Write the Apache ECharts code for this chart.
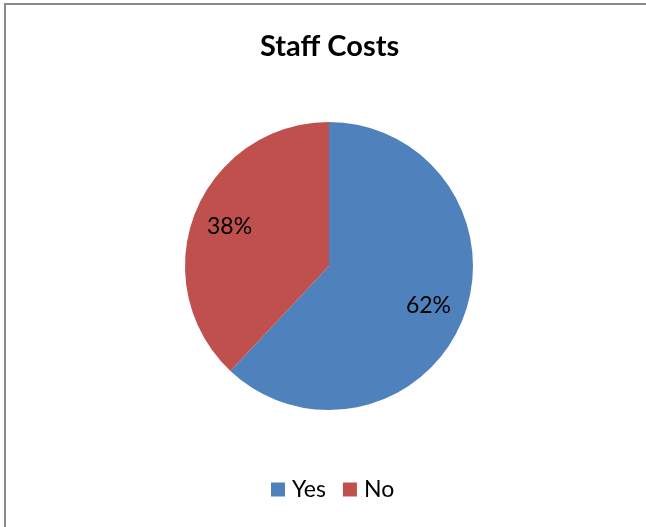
<!DOCTYPE html>
<html>
<head>
<meta charset="utf-8">
<script src="https://cdn.jsdelivr.net/npm/echarts@6/dist/echarts.min.js"></script>
<style>
  html, body { margin: 0; padding: 0; background: #ffffff; }
  #chart { width: 646px; height: 527px; }
</style>
</head>
<body>
<div id="chart"></div>
<script>
// Survey answers for staff costs
const categories = ['Yes', 'No'];
const shares = [62, 38];
const colors = ['#4F81BD', '#C0504D'];

const pieData = categories.map((name, i) => ({ name: name, value: shares[i] }));

const chart = echarts.init(document.getElementById('chart'), null, { renderer: 'canvas' });

chart.setOption({
  backgroundColor: '#ffffff',
  animation: false,
  color: colors,
  title: {
    text: 'Staff Costs',
    left: 255,
    top: 27,
    textStyle: {
      fontFamily: 'Lato',
      fontWeight: 'bold',
      fontSize: 29,
      color: '#000000'
    }
  },
  legend: {
    data: categories,
    top: 473,
    left: 266,
    icon: 'rect',
    itemWidth: 14,
    itemHeight: 14,
    itemGap: 17,
    textStyle: {
      fontFamily: 'Lato',
      fontSize: 23,
      color: '#000000',
      padding: [0, 0, 0, 2]
    }
  },
  graphic: [{
    type: 'rect',
    silent: true,
    shape: { x: 5, y: 4, width: 800, height: 700 },
    style: { fill: 'none', stroke: '#898989', lineWidth: 2 }
  }],
  series: [
    {
      type: 'pie',
      center: [329, 266],
      radius: [0, 144],
      startAngle: 90,
      clockwise: true,
      data: pieData,
      label: { show: false },
      labelLine: { show: false },
      itemStyle: { borderWidth: 0 },
      emphasis: { disabled: true }
    },
    {
      // label layer: same slices, used to place percentage text further out
      type: 'pie',
      center: [329, 266],
      radius: [0, 208],
      startAngle: 90,
      clockwise: true,
      silent: true,
      data: pieData,
      itemStyle: { color: 'rgba(0,0,0,0)' },
      labelLine: { show: false },
      label: {
        show: true,
        position: 'inside',
        formatter: '{c}%',
        fontFamily: 'Lato',
        fontSize: 23,
        color: '#000000'
      },
      emphasis: { disabled: true }
    }
  ]
});
</script>
</body>
</html>
